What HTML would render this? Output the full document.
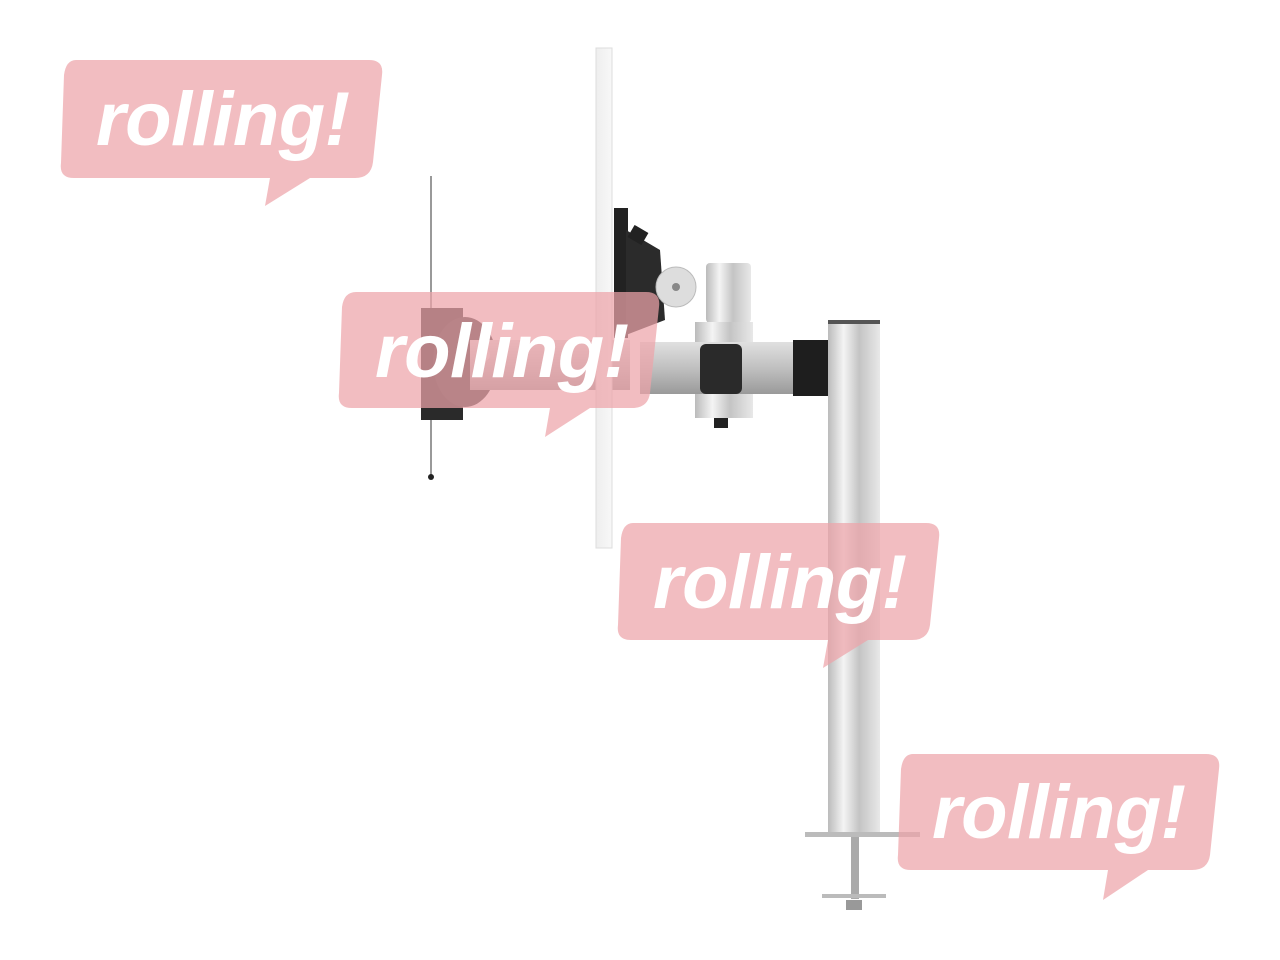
<!DOCTYPE html>
<html><head><style>
body{margin:0;background:#fff;width:1280px;height:960px;overflow:hidden}
svg{display:block}
.t{font-family:"Liberation Sans",sans-serif;font-weight:bold;font-style:italic;font-size:76px;fill:#fff;letter-spacing:-0.5px}
</style></head><body>
<svg width="1280" height="960" viewBox="0 0 1280 960">
<defs>
<linearGradient id="pole" x1="0" x2="1"><stop offset="0" stop-color="#bbb"/><stop offset=".3" stop-color="#f4f4f4"/><stop offset=".6" stop-color="#c4c4c4"/><stop offset="1" stop-color="#e8e8e8"/></linearGradient>
<linearGradient id="arm" x1="0" y1="0" x2="0" y2="1"><stop offset="0" stop-color="#e0e0e0"/><stop offset=".5" stop-color="#c0c0c0"/><stop offset="1" stop-color="#9a9a9a"/></linearGradient>
<linearGradient id="pan" x1="0" x2="1"><stop offset="0" stop-color="#eee"/><stop offset="1" stop-color="#f8f8f8"/></linearGradient>
</defs>
<line x1="431" y1="176" x2="431" y2="478" stroke="#999" stroke-width="2"/>
<circle cx="431" cy="477" r="3" fill="#222"/>
<rect x="421" y="308" width="42" height="112" fill="#2a2a2a"/>
<ellipse cx="465" cy="362" rx="32" ry="45" fill="#333"/>
<rect x="470" y="340" width="160" height="50" fill="url(#arm)"/>
<circle cx="484" cy="355" r="6" fill="#ddd"/>
<rect x="596" y="48" width="16" height="500" fill="url(#pan)" stroke="#ddd"/>
<rect x="614" y="208" width="14" height="130" fill="#222"/>
<path d="M626 230 L660 250 L665 320 L626 335Z" fill="#2b2b2b"/>
<rect x="630" y="228" width="16" height="14" fill="#222" transform="rotate(30 638 235)"/>
<circle cx="676" cy="287" r="20" fill="#ddd" stroke="#bbb"/>
<circle cx="676" cy="287" r="4" fill="#888"/>
<rect x="706" y="263" width="45" height="60" rx="4" fill="url(#pole)"/>
<rect x="695" y="322" width="58" height="96" fill="url(#pole)"/>
<rect x="640" y="342" width="160" height="52" fill="url(#arm)"/>
<rect x="700" y="344" width="42" height="50" rx="6" fill="#2a2a2a"/>
<rect x="714" y="418" width="14" height="10" fill="#222"/>
<rect x="793" y="340" width="60" height="56" fill="#1e1e1e"/>
<rect x="828" y="320" width="52" height="514" fill="url(#pole)"/>
<rect x="828" y="320" width="52" height="4" fill="#555"/>
<rect x="805" y="832" width="115" height="5" fill="#bbb"/>
<rect x="851" y="837" width="8" height="62" fill="#aaa"/>
<rect x="822" y="894" width="64" height="4" fill="#bbb"/>
<rect x="846" y="900" width="16" height="10" fill="#999"/>
<g fill="#eda3a9" fill-opacity=".72">
<path d="M76 60 H369 Q384 60 382 75 L373 162 Q371 178 355 178 H310 L265 206 L270 178 H74 Q59 178 61 163 L64 75 Q66 60 76 60Z"/>
<path d="M356 292 H646 Q661 292 659 307 L650 393 Q648 408 632 408 H590 L545 437 L550 408 H352 Q337 408 339 393 L342 307 Q344 292 356 292Z"/>
<path d="M633 523 H926 Q941 523 939 538 L930 625 Q928 640 912 640 H868 L823 668 L828 640 H631 Q616 640 618 625 L621 538 Q623 523 633 523Z"/>
<path d="M913 754 H1206 Q1221 754 1219 769 L1210 855 Q1208 870 1192 870 H1148 L1103 900 L1108 870 H911 Q896 870 898 855 L901 769 Q903 754 913 754Z"/>
</g>
<text class="t" x="96" y="145">rolling!</text>
<text class="t" x="375" y="377">rolling!</text>
<text class="t" x="653" y="608">rolling!</text>
<text class="t" x="932" y="838">rolling!</text>
</svg>
</body></html>
